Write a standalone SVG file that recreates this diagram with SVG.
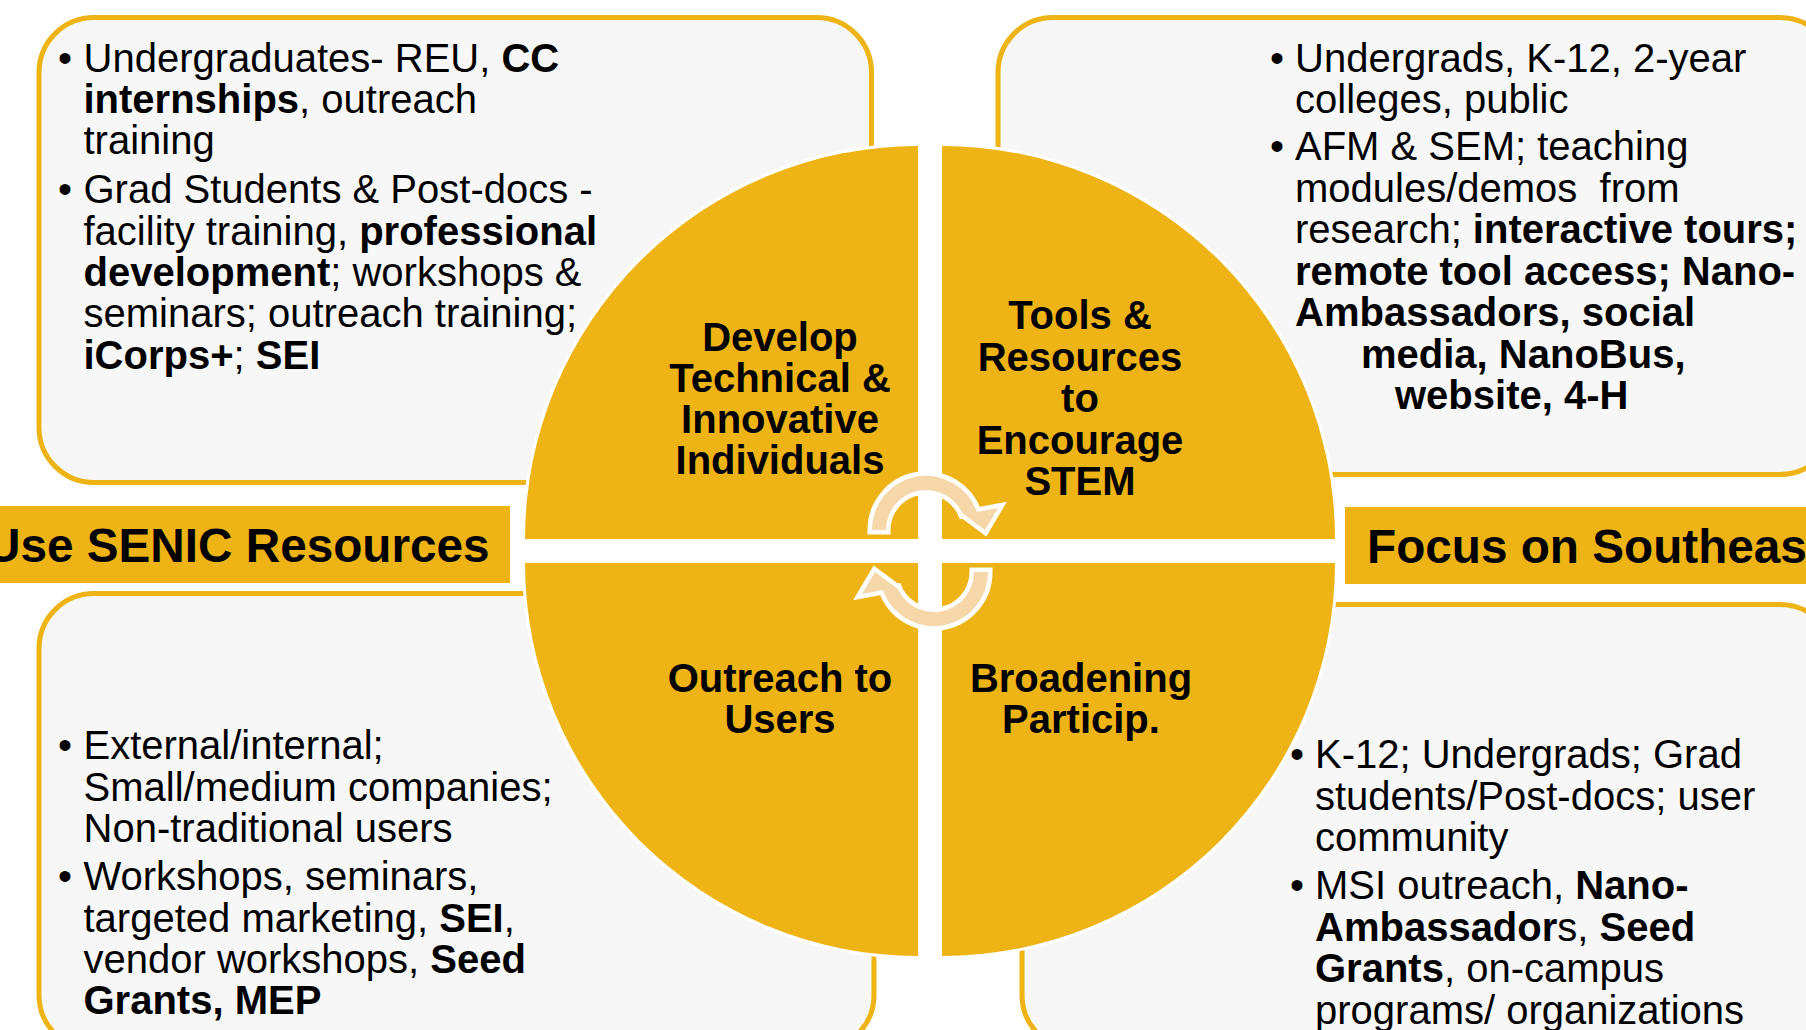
<svg xmlns="http://www.w3.org/2000/svg" width="1806" height="1030" viewBox="0 0 1806 1030">
<defs>
<style>
.box{fill:#F7F7F7;stroke:#EEB314;stroke-width:5}
.quad{fill:#EEB314;stroke:#FFFFFF;stroke-width:6;paint-order:stroke}
.banner{fill:#EEB314}
.t{font-family:"Liberation Sans",Arial,sans-serif;font-size:40px;fill:#000}
.b{font-weight:bold}
.q{font-family:"Liberation Sans",Arial,sans-serif;font-size:40px;font-weight:bold;fill:#000;text-anchor:middle}
.ban{font-family:"Liberation Sans",Arial,sans-serif;font-size:47.7px;font-weight:bold;fill:#000}
.arr{fill:#F5D7A9;stroke:#FFFFFF;stroke-width:9;stroke-linejoin:miter;paint-order:stroke}
</style>
</defs>
<rect width="1806" height="1030" fill="#FFFFFF"/>

<g id="box-top-left">
<rect class="box" x="39" y="17.5" width="832.5" height="465" rx="55" ry="55"/>
<text class="t" x="58" y="72">•</text>
<text class="t" x="83.5" y="72">Undergraduates- REU, <tspan class="b">CC</tspan></text>
<text class="t" x="83.5" y="113"><tspan class="b">internships</tspan>, outreach</text>
<text class="t" x="83.5" y="154">training</text>
<text class="t" x="58" y="203">•</text>
<text class="t" x="83.5" y="203">Grad Students &amp; Post-docs -</text>
<text class="t" x="83.5" y="244.5">facility training, <tspan class="b">professional</tspan></text>
<text class="t" x="83.5" y="286"><tspan class="b">development</tspan>; workshops &amp;</text>
<text class="t" x="83.5" y="327">seminars; outreach training;</text>
<text class="t" x="83.5" y="368.5"><tspan class="b">iCorps+</tspan>; <tspan class="b">SEI</tspan></text>
</g>

<g id="box-top-right">
<rect class="box" x="998" y="17.5" width="837" height="457" rx="55" ry="55"/>
<text class="t" x="1270" y="72">•</text>
<text class="t" x="1295" y="72">Undergrads, K-12, 2-year</text>
<text class="t" x="1295" y="113">colleges, public</text>
<text class="t" x="1270" y="160">•</text>
<text class="t" x="1295" y="160">AFM &amp; SEM; teaching</text>
<text class="t" x="1295" y="201.5" xml:space="preserve">modules/demos  from</text>
<text class="t" x="1295" y="243">research; <tspan class="b">interactive tours;</tspan></text>
<text class="t b" x="1295" y="284.5">remote tool access; Nano-</text>
<text class="t b" x="1295" y="326">Ambassadors, social</text>
<text class="t b" x="1361" y="367.5">media, NanoBus,</text>
<text class="t b" x="1395" y="409">website, 4-H</text>
</g>

<g id="box-bottom-left">
<rect class="box" x="39" y="593.5" width="835" height="456.5" rx="55" ry="55"/>
<text class="t" x="58" y="759">•</text>
<text class="t" x="83.5" y="759">External/internal;</text>
<text class="t" x="83.5" y="800.5">Small/medium companies;</text>
<text class="t" x="83.5" y="842">Non-traditional users</text>
<text class="t" x="58" y="890">•</text>
<text class="t" x="83.5" y="890">Workshops, seminars,</text>
<text class="t" x="83.5" y="931.5">targeted marketing, <tspan class="b">SEI</tspan>,</text>
<text class="t" x="83.5" y="973">vendor workshops, <tspan class="b">Seed</tspan></text>
<text class="t b" x="83.5" y="1014">Grants, MEP</text>
</g>

<g id="box-bottom-right">
<rect class="box" x="1022" y="604.5" width="813" height="445.5" rx="55" ry="55"/>
<text class="t" x="1290" y="768">•</text>
<text class="t" x="1315" y="768">K-12; Undergrads; Grad</text>
<text class="t" x="1315" y="809.5">students/Post-docs; user</text>
<text class="t" x="1315" y="851">community</text>
<text class="t" x="1290" y="899">•</text>
<text class="t" x="1315" y="899">MSI outreach, <tspan class="b">Nano-</tspan></text>
<text class="t" x="1315" y="940.5"><tspan class="b">Ambassador</tspan>s, <tspan class="b">Seed</tspan></text>
<text class="t" x="1315" y="982"><tspan class="b">Grants</tspan>, on-campus</text>
<text class="t" x="1315" y="1023.5">programs/ organizations</text>
</g>

<g id="banner-left">
<rect class="banner" x="-5" y="506" width="515" height="77"/>
<text class="ban" x="-14" y="562">Use SENIC Resources</text>
</g>

<g id="banner-right">
<rect class="banner" x="1345" y="507" width="470" height="77"/>
<text class="ban" x="1367" y="563">Focus on Southeas</text>
</g>

<g id="quadrant-develop">
<path class="quad" d="M918,539 L525,539 A393,393 0 0 1 918,146 Z"/>
<text class="q" x="780" y="351">Develop</text>
<text class="q" x="780" y="392">Technical &amp;</text>
<text class="q" x="780" y="433">Innovative</text>
<text class="q" x="780" y="474">Individuals</text>
</g>

<g id="quadrant-tools">
<path class="quad" d="M942,539 L942,146 A393,393 0 0 1 1335,539 Z"/>
<text class="q" x="1080" y="329">Tools &amp;</text>
<text class="q" x="1080" y="370.5">Resources</text>
<text class="q" x="1080" y="412">to</text>
<text class="q" x="1080" y="453.5">Encourage</text>
<text class="q" x="1080" y="495">STEM</text>
</g>

<g id="quadrant-outreach">
<path class="quad" d="M918,563 L918,956 A393,393 0 0 1 525,563 Z"/>
<text class="q" x="780" y="692">Outreach to</text>
<text class="q" x="780" y="733">Users</text>
</g>

<g id="quadrant-broadening">
<path class="quad" d="M942,563 L1335,563 A393,393 0 0 1 942,956 Z"/>
<text class="q" x="1081" y="692">Broadening</text>
<text class="q" x="1081" y="733">Particip.</text>
</g>

<g id="connectors">
<path id="arrowTop" class="arr" d="M872,530 A54,54 0 0 1 977,512 L998,508 L985,530 L962,513 L964,517.5 A40,40 0 0 0 886,530 Z"/>
<path class="arr" transform="rotate(180 930 551)" d="M872,530 A54,54 0 0 1 977,512 L998,508 L985,530 L962,513 L964,517.5 A40,40 0 0 0 886,530 Z"/>
</g>
</svg>
